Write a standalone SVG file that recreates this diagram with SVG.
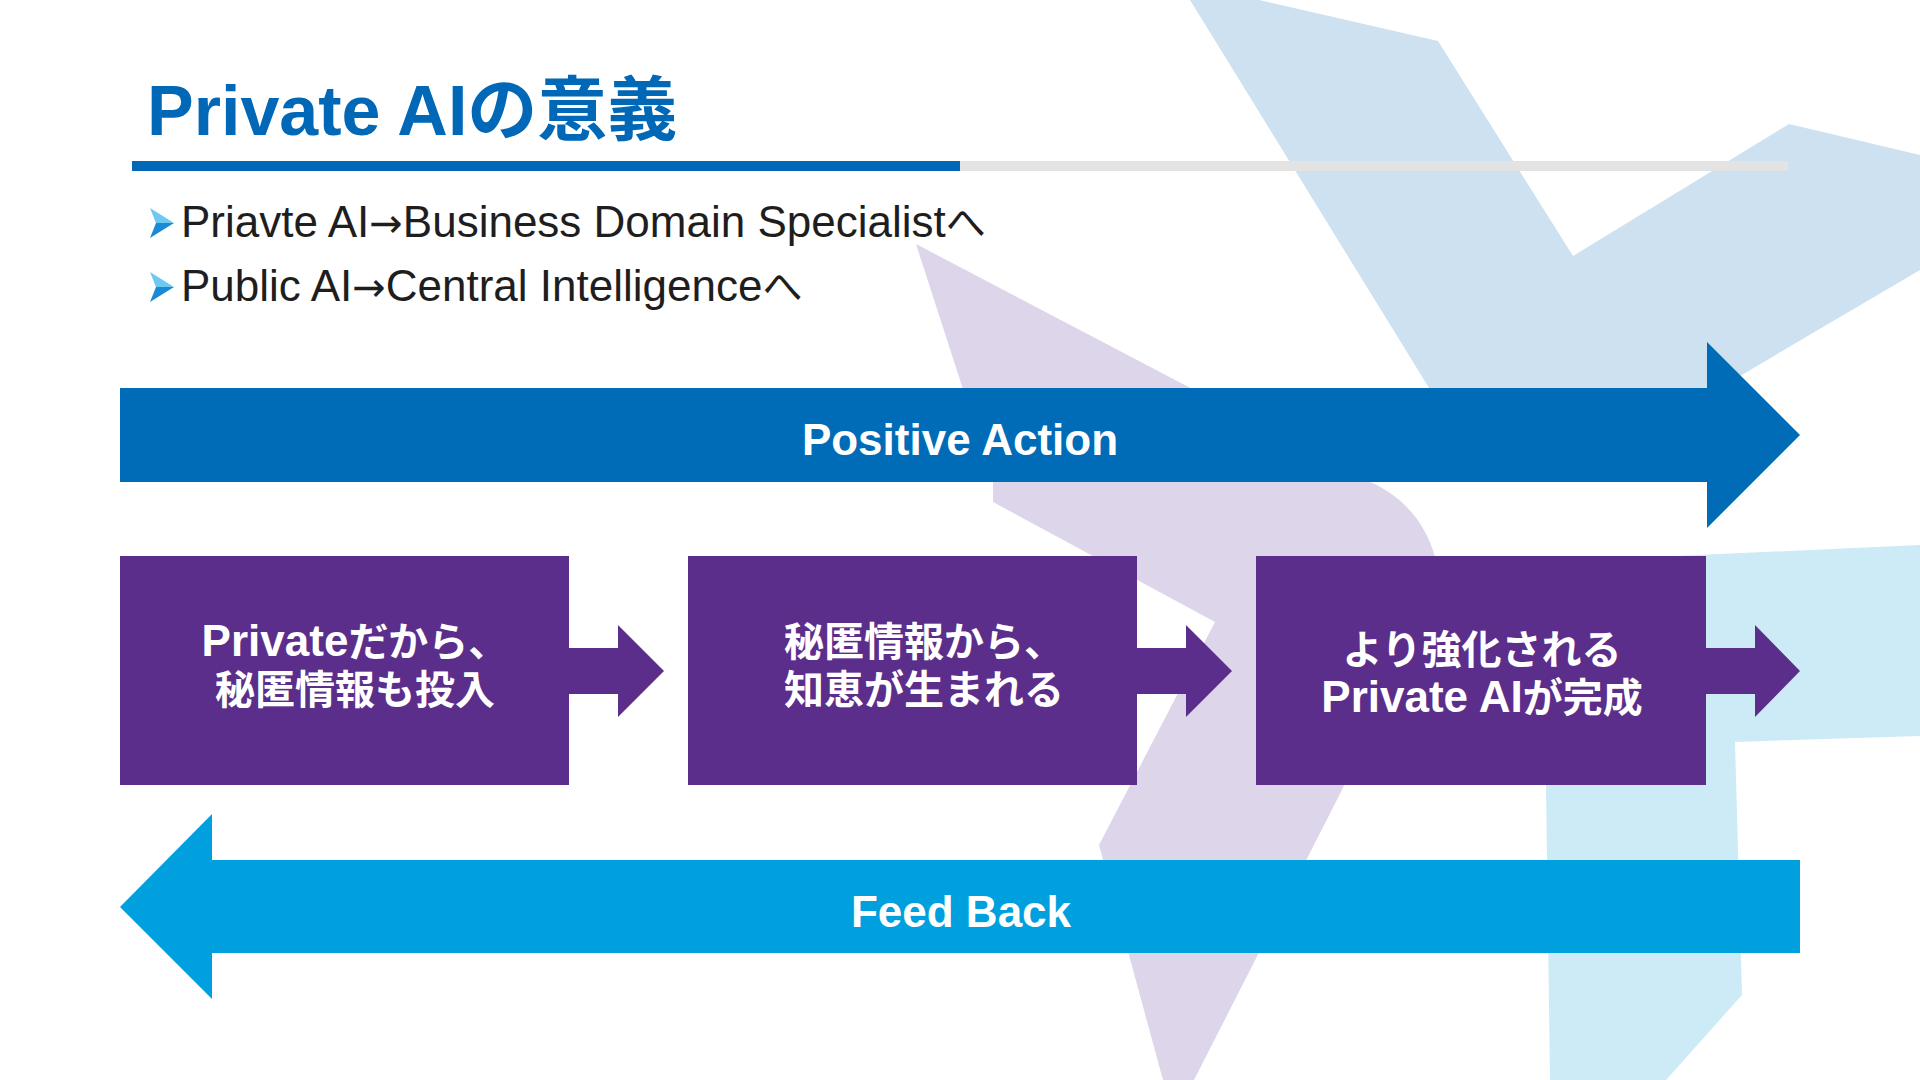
<svg xmlns="http://www.w3.org/2000/svg" width="1920" height="1080" viewBox="0 0 1920 1080">
<style>
.t{font-family:"Liberation Sans","Noto Sans CJK JP",sans-serif}
.title{font-size:70px;font-weight:bold;fill:#0068b7}
.bul{font-size:44px;fill:#1e1e1e}
.jb{font-size:40px}
.arr{font-family:"DejaVu Sans",sans-serif;font-size:40px}
.big{font-size:44px;font-weight:bold;fill:#ffffff}
.box{fill:#5c2e8b}
.bt{font-size:40px;font-weight:bold;fill:#ffffff}
.lat{font-size:44px}
.conn{fill:#5c2e8b}
</style>
<rect width="1920" height="1080" fill="#ffffff"/>
<g id="background">
<polygon points="1190,0 1259,0 1438,41 1573,256 1789,124 1920,155 1920,270 1560,482 1487,482" fill="#cde1f0"/>
<path d="M916,244 L1370,482 C1400,495 1425,520 1435,557 L1440,600 L1344,786 L1194,1080 L1163,1080 L1099,845 L1215,622 L993,502 L993,482 Z" fill="#ddd5ea"/>
<polygon points="1543,562 1920,545 1920,736 1735,742 1742,995 1666,1080 1550,1080" fill="#cdeaf7"/>
</g>
<g id="title">
<text class="t title" x="147" y="135">Private AIの意義</text>
<rect x="132" y="161" width="828" height="10" fill="#0068b7"/>
<rect x="960" y="161" width="828" height="10" fill="#e3e3e3"/>
</g>
<g id="bullets">
<polygon points="150,208 174,223 156,223" fill="#6ccaf0"/>
<polygon points="156,223 174,223 150,238" fill="#1a8ad4"/>
<text class="t bul" x="181" y="237">Priavte AI<tspan class="arr">→</tspan>Business Domain Specialist<tspan class="jb">へ</tspan></text>
<polygon points="150,272 174,287 156,287" fill="#6ccaf0"/>
<polygon points="156,287 174,287 150,302" fill="#1a8ad4"/>
<text class="t bul" x="181" y="301">Public AI<tspan class="arr">→</tspan>Central Intelligence<tspan class="jb">へ</tspan></text>
</g>
<g id="positive-action">
<polygon points="120,388 1707,388 1707,342 1800,435 1707,528 1707,482 120,482" fill="#006bb6"/>
<text class="t big" x="960" y="455" text-anchor="middle">Positive Action</text>
</g>
<g id="connectors">
<polygon class="conn" points="569,648 618,648 618,625 664,671 618,717 618,694 569,694"/>
<polygon class="conn" points="1137,648 1186,648 1186,625 1232,671 1186,717 1186,694 1137,694"/>
<polygon class="conn" points="1706,648 1755,648 1755,625 1800,671 1755,717 1755,694 1706,694"/>
</g>
<g id="node-1">
<rect class="box" x="120" y="556" width="449" height="229"/>
<text class="t bt" x="355" y="656" text-anchor="middle"><tspan class="lat">Private</tspan>だから、</text>
<text class="t bt" x="355" y="704" text-anchor="middle">秘匿情報も投入</text>
</g>
<g id="node-2">
<rect class="box" x="688" y="556" width="449" height="229"/>
<text class="t bt" x="924" y="656" text-anchor="middle">秘匿情報から、</text>
<text class="t bt" x="924" y="704" text-anchor="middle">知恵が生まれる</text>
</g>
<g id="node-3">
<rect class="box" x="1256" y="556" width="450" height="229"/>
<text class="t bt" x="1482" y="664" text-anchor="middle">より強化される</text>
<text class="t bt" x="1482" y="712" text-anchor="middle"><tspan class="lat">Private AI</tspan>が完成</text>
</g>
<g id="feed-back">
<polygon points="1800,860 212,860 212,814 120,907 212,999 212,953 1800,953" fill="#009fdd"/>
<text class="t big" x="961" y="927" text-anchor="middle">Feed Back</text>
</g>
</svg>
